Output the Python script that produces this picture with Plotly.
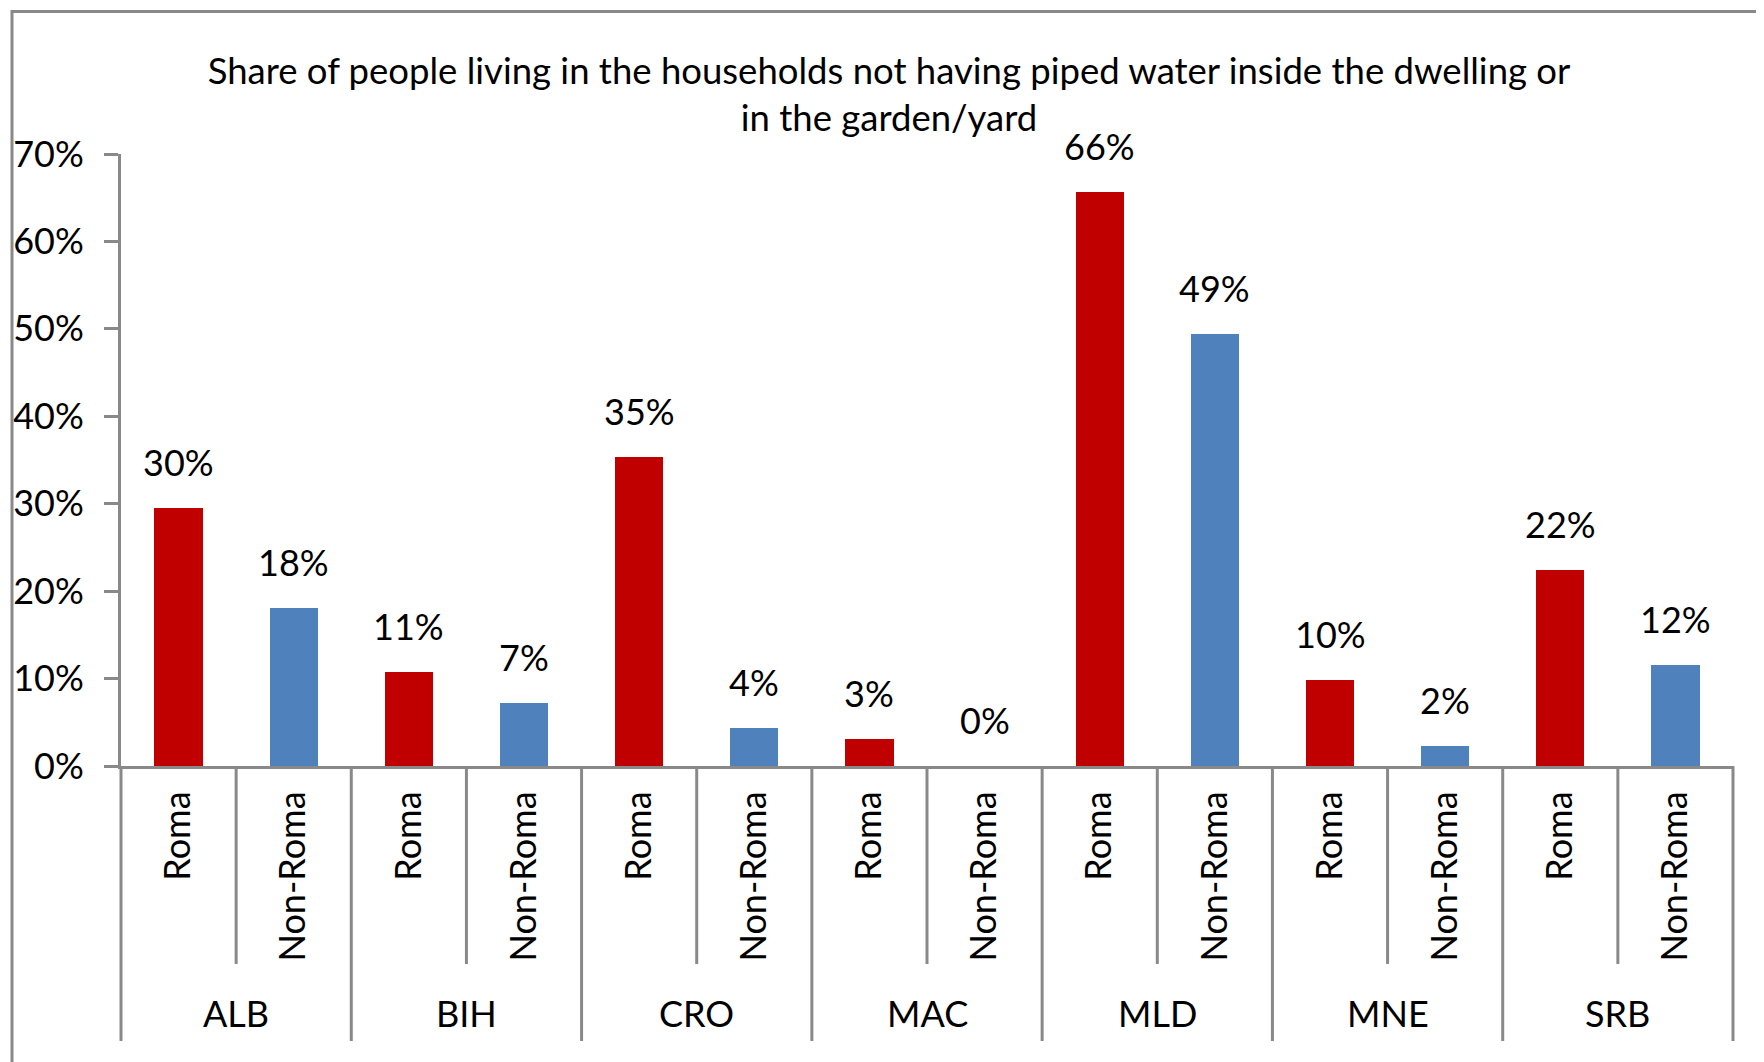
import plotly.graph_objects as go

# ---- data ----
countries = ["ALB", "BIH", "CRO", "MAC", "MLD", "MNE", "SRB"]
groups = ["Roma", "Non-Roma"]
roma = [29.5, 10.7, 35.4, 3.1, 65.6, 9.8, 22.4]
non_roma = [18.1, 7.2, 4.4, 0.0, 49.4, 2.3, 11.6]
y_tick_vals = [0, 10, 20, 30, 40, 50, 60, 70]
y_tick_text = ["0%", "10%", "20%", "30%", "40%", "50%", "60%", "70%"]
title_text = ("Share of people living in the households not having piped water inside the dwelling or"
              "<br>in the garden/yard")

# ---- layout geometry (page body adds an 8px offset) ----
OFF = 8
W, H = 1764 - OFF, 1062 - OFF
L, R, T, B = 121 - OFF, 31, 154 - OFF, 296
PW, PH = W - L - R, H - T - B
FONT = "Lato"
FS = 36
GRAY = "#898989"
RED = "#C00000"
BLUE = "#4F81BD"

n_slots = len(countries) * len(groups)


def px_x(px):  # px in screenshot coordinates
    return (px - OFF - L) / PW


def px_y(py):
    return (H - B - (py - OFF)) / PH


x_roma = [2 * i for i in range(len(countries))]
x_non = [2 * i + 1 for i in range(len(countries))]

fig = go.Figure()
fig.add_trace(go.Bar(x=x_roma, y=roma, marker=dict(color=RED, line=dict(width=0)),
                     width=0.42, name="Roma", hoverinfo="skip"))
fig.add_trace(go.Bar(x=x_non, y=non_roma, marker=dict(color=BLUE, line=dict(width=0)),
                     width=0.42, name="Non-Roma", hoverinfo="skip"))

annotations = []
for xs, vals in ((x_roma, roma), (x_non, non_roma)):
    for x, v in zip(xs, vals):
        annotations.append(dict(x=x, y=v, xref="x", yref="y", text=f"{v:.0f}%",
                                showarrow=False, yanchor="middle", yshift=46,
                                font=dict(family=FONT, size=FS, color="black")))

for i, c in enumerate(countries):
    annotations.append(dict(x=2 * i + 0.5, y=px_y(1013), xref="x", yref="paper", text=c,
                            showarrow=False, yanchor="middle", xanchor="center",
                            font=dict(family=FONT, size=FS, color="black")))

shapes = []
# separators between Roma / Non-Roma inside each country
for i in range(len(countries)):
    xp = (2 * i + 1) / n_slots
    shapes.append(dict(type="line", xref="paper", yref="paper", x0=xp, x1=xp,
                       y0=0, y1=px_y(964), line=dict(color=GRAY, width=3)))
# country boundaries
for i in range(len(countries) + 1):
    xp = (2 * i) / n_slots
    shapes.append(dict(type="line", xref="paper", yref="paper", x0=xp, x1=xp,
                       y0=0, y1=px_y(1041), line=dict(color=GRAY, width=3)))
# outer chart border
shapes.append(dict(type="rect", xref="paper", yref="paper",
                   x0=px_x(12), x1=px_x(1800), y0=px_y(11.5), y1=px_y(1100),
                   line=dict(color=GRAY, width=3), fillcolor="rgba(0,0,0,0)"))

fig.update_layout(
    width=W, height=H,
    margin=dict(l=L, r=R, t=T, b=B, autoexpand=False),
    paper_bgcolor="white", plot_bgcolor="white",
    showlegend=False, bargap=0,
    font=dict(family=FONT, size=FS, color="black"),
    title=dict(text=title_text, x=(889 - OFF) / W, xanchor="center", xref="container",
               y=1 - (83.5 - OFF) / H, yanchor="middle", yref="container",
               font=dict(family=FONT, size=36.5, color="black")),
    xaxis=dict(range=[-0.5, n_slots - 0.5], tickmode="array",
               tickvals=list(range(n_slots)),
               ticktext=[groups[k % 2] for k in range(n_slots)],
               tickangle=-90, ticks="", showline=True, linecolor=GRAY, linewidth=3,
               showgrid=False, zeroline=False, ticklabelstandoff=8,
               tickfont=dict(family=FONT, size=FS, color="black")),
    yaxis=dict(range=[0, 70], tickmode="array", tickvals=y_tick_vals, ticktext=y_tick_text,
               ticks="outside", ticklen=14, tickwidth=3, tickcolor=GRAY,
               showline=True, linecolor=GRAY, linewidth=3, showgrid=False, zeroline=False,
               ticklabelstandoff=13,
               tickfont=dict(family=FONT, size=FS, color="black")),
    annotations=annotations,
    shapes=shapes,
)

fig.write_html("out.html")
